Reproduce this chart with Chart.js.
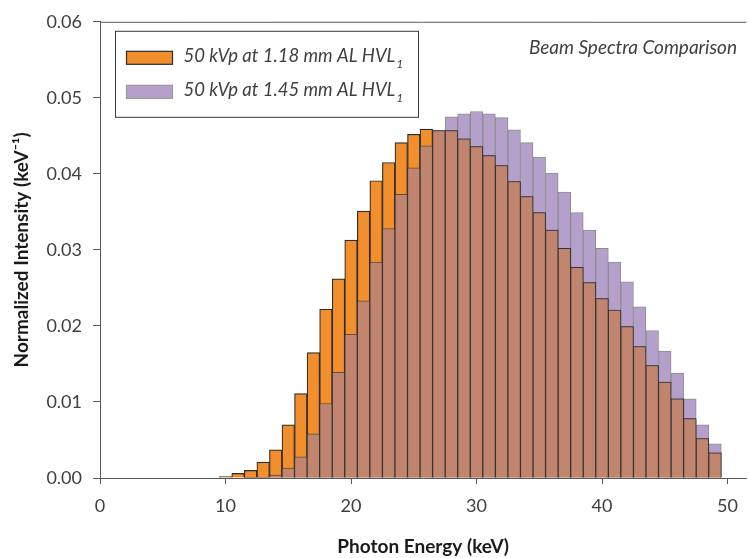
<!DOCTYPE html>
<html>
<head>
<meta charset="utf-8">
<script src="https://cdn.jsdelivr.net/npm/chart.js@4/dist/chart.umd.min.js"></script>
<style>
  html, body { margin: 0; padding: 0; background: #fff; overflow: hidden; }
  #wrap { width: 749px; height: 558px; }
</style>
</head>
<body>
<div id="wrap"><canvas id="spectra"></canvas></div>
<script>
// photon energy bins (keV), one bar per keV
const energies = [10, 11, 12, 13, 14, 15, 16, 17, 18, 19,
                  20, 21, 22, 23, 24, 25, 26, 27, 28, 29,
                  30, 31, 32, 33, 34, 35, 36, 37, 38, 39,
                  40, 41, 42, 43, 44, 45, 46, 47, 48, 49];

// 50 kVp at 1.18 mm AL HVL1
const softBeam = [0.0002, 0.0006, 0.0010, 0.0021, 0.0037, 0.0070, 0.0111, 0.0165, 0.0222, 0.0262,
                  0.0313, 0.0351, 0.0391, 0.0415, 0.0441, 0.0452, 0.0459, 0.0457, 0.0457, 0.0446,
                  0.0436, 0.0424, 0.0411, 0.0390, 0.0370, 0.0349, 0.0326, 0.0302, 0.0277, 0.0257,
                  0.0236, 0.0221, 0.0199, 0.0173, 0.0148, 0.0126, 0.0104, 0.0078, 0.0052, 0.0033];

// 50 kVp at 1.45 mm AL HVL1
const hardBeam = [0.0000, 0.0000, 0.0001, 0.0001, 0.0004, 0.0013, 0.0028, 0.0058, 0.0098, 0.0139,
                  0.0189, 0.0233, 0.0284, 0.0328, 0.0373, 0.0408, 0.0437, 0.0457, 0.0475, 0.0479,
                  0.0482, 0.0479, 0.0474, 0.0458, 0.0441, 0.0422, 0.0401, 0.0376, 0.0349, 0.0326,
                  0.0302, 0.0284, 0.0258, 0.0225, 0.0194, 0.0167, 0.0138, 0.0104, 0.0070, 0.0045];

const seriesLabels = ['50 kVp at 1.18 mm AL HVL\u2081', '50 kVp at 1.45 mm AL HVL\u2081'];
const xTicks = [0, 10, 20, 30, 40, 50];
const yTicks = [0, 0.01, 0.02, 0.03, 0.04, 0.05, 0.06];
const chartTitle = 'Beam Spectra Comparison';

const orange = '#F28E2C';
const purple = '#B5A0CB';
const overlap = '#C1846F';
const axisColor = '#595959';
const textColor = '#404040';
const fontFamily = 'Lato, "Open Sans", sans-serif';

const pts = arr => energies.map((e, i) => ({x: e, y: arr[i]}));
// where both spectra cover the same bin the shared part is shown in brown
const shared = energies.map((e, i) => ({x: e, y: Math.min(softBeam[i], hardBeam[i])}));

// legend box + title inside the plot, plus the top frame line
const insidePlot = {
  id: 'insidePlot',
  afterDraw(chart) {
    const {ctx, chartArea} = chart;
    ctx.save();
    ctx.strokeStyle = axisColor;
    ctx.lineWidth = 1;
    ctx.beginPath();
    ctx.moveTo(chartArea.left, chartArea.top + 0.5);
    ctx.lineTo(chartArea.right, chartArea.top + 0.5);
    ctx.stroke();

    // legend
    const bx = chartArea.left + 15.5, by = chartArea.top + 9.5;
    ctx.strokeStyle = '#3a3a3a';
    ctx.strokeRect(bx, by, 303, 86);
    const rows = [
      {label: seriesLabels[0], fill: orange, edge: '#2b2b2b', y: by + 26},
      {label: seriesLabels[1], fill: purple, edge: '#9a9a9a', y: by + 60}
    ];
    rows.forEach(r => {
      ctx.fillStyle = r.fill;
      ctx.fillRect(bx + 11, r.y - 6, 46, 13);
      ctx.strokeStyle = r.edge;
      ctx.lineWidth = 1.2;
      ctx.strokeRect(bx + 11, r.y - 6, 46, 13);
      let main = r.label, sub = '';
      if (main.endsWith('\u2081')) { main = main.slice(0, -1); sub = '1'; }
      ctx.fillStyle = textColor;
      ctx.textBaseline = 'middle';
      ctx.textAlign = 'left';
      ctx.font = 'italic 18.5px ' + fontFamily;
      ctx.fillText(main, bx + 68, r.y - 1);
      const w = ctx.measureText(main).width;
      if (sub) {
        ctx.font = 'italic 12px ' + fontFamily;
        ctx.fillText(sub, bx + 69 + w, r.y + 7);
      }
    });

    // title
    ctx.font = 'italic 19px ' + fontFamily;
    ctx.fillStyle = textColor;
    ctx.textAlign = 'right';
    ctx.textBaseline = 'middle';
    ctx.fillText(chartTitle, 737, 48);
    ctx.restore();
  }
};

new Chart(document.getElementById('spectra'), {
  type: 'bar',
  data: {
    datasets: [
      {
        label: 'overlap',
        data: shared,
        backgroundColor: overlap,
        borderColor: 'rgba(55,55,55,0.75)',
        borderWidth: 1,
        order: 0
      },
      {
        label: seriesLabels[0],
        data: pts(softBeam),
        backgroundColor: orange,
        borderColor: '#2b2b2b',
        borderWidth: 1.2,
        order: 1
      },
      {
        label: seriesLabels[1],
        data: pts(hardBeam),
        backgroundColor: purple,
        borderColor: '#8c8c8c',
        borderWidth: 1,
        order: 2
      }
    ]
  },
  options: {
    responsive: true,
    maintainAspectRatio: false,
    animation: false,
    layout: { padding: { top: 20, left: 0, right: 0, bottom: 0 } },
    datasets: {
      bar: { grouped: false, barPercentage: 1, categoryPercentage: 1, borderSkipped: 'start' }
    },
    plugins: {
      legend: { display: false },
      tooltip: { enabled: false }
    },
    scales: {
      x: {
        type: 'linear',
        min: 0,
        max: 51.5,
        offset: false,
        afterBuildTicks: s => { s.ticks = xTicks.map(v => ({value: v})); },
        afterFit: s => { s.height = 80; },
        grid: { offset: false, drawOnChartArea: false, drawTicks: true, tickLength: 6, color: axisColor },
        border: { display: true, color: axisColor, width: 1 },
        ticks: { color: textColor, font: { family: fontFamily, size: 18 }, padding: 11, maxRotation: 0 },
        title: {
          display: true,
          text: 'Photon Energy (keV)',
          color: '#1a1a1a',
          font: { family: fontFamily, size: 19, weight: 'bold' },
          padding: { top: 0, bottom: 0 }
        }
      },
      y: {
        min: 0,
        max: 0.06,
        afterBuildTicks: s => { s.ticks = yTicks.map(v => ({value: v})); },
        afterFit: s => { s.width = 100; },
        grid: { drawOnChartArea: false, drawTicks: true, tickLength: 7, color: axisColor },
        border: { display: true, color: axisColor, width: 1 },
        ticks: {
          color: textColor,
          font: { family: fontFamily, size: 18 },
          padding: 11,
          callback: v => v.toFixed(2)
        },
        title: {
          display: true,
          text: 'Normalized Intensity (keV\u207B\u00B9)',
          color: '#1a1a1a',
          font: { family: fontFamily, size: 19, weight: 'bold' },
          padding: { top: 10, bottom: 0 }
        }
      }
    }
  },
  plugins: [insidePlot]
});
</script>
</body>
</html>
